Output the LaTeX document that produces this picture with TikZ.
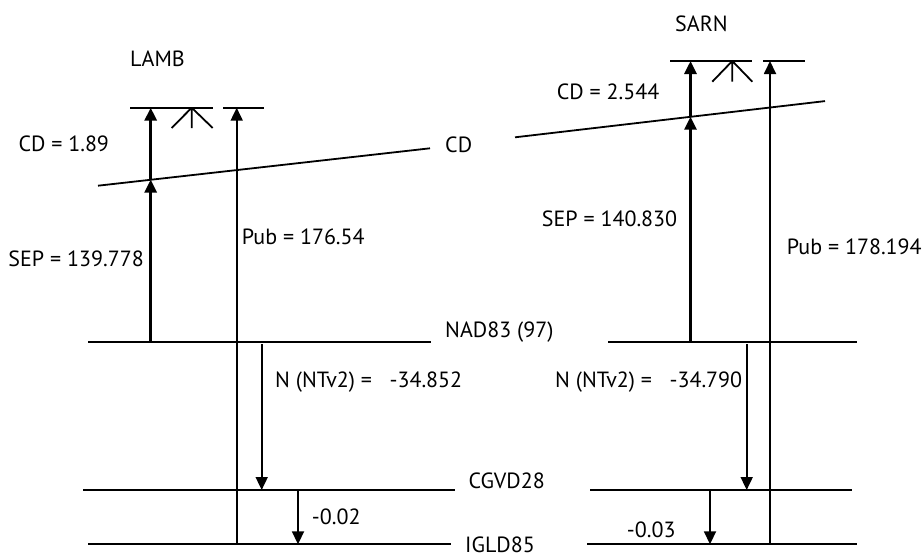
\documentclass[tikz,border=0pt]{standalone}
\usepackage{fontspec}
\setmainfont{PT Sans}
\usetikzlibrary{arrows.meta}
\begin{document}
\begin{tikzpicture}[x=1pt,y=-1pt,
  thinln/.style={line width=1.8pt},
  thickln/.style={line width=3pt},
  tip/.style={-{Triangle[width=12pt,length=13pt]}},
  lbl/.style={anchor=west,inner sep=0pt,font=\fontsize{22}{26}\selectfont}]
\useasboundingbox (0,0) rectangle (923,557);
% level lines
\coordinate (nadLa) at (88,342);   \coordinate (nadLb) at (431,342);
\coordinate (nadRa) at (608,342);  \coordinate (nadRb) at (857,342);
\coordinate (cgLa) at (83,490);    \coordinate (cgLb) at (455,490);
\coordinate (cgRa) at (590,490);   \coordinate (cgRb) at (852,490);
\coordinate (igLa) at (88,544.3);  \coordinate (igLb) at (451,544.3);
\coordinate (igRa) at (587,544.3); \coordinate (igRb) at (857,544.3);
\draw[thinln] (nadLa) -- (nadLb);
\draw[thinln] (nadRa) -- (nadRb);
\draw[thinln] (cgLa) -- (cgLb);
\draw[thinln] (cgRa) -- (cgRb);
\draw[thinln] (igLa) -- (igLb);
\draw[thinln] (igRa) -- (igRb);
% CD line
\coordinate (cdLa) at (98,185.7);  \coordinate (cdLb) at (430,148.3);
\coordinate (cdRa) at (515,137.3); \coordinate (cdRb) at (825,101.1);
\draw[thinln] (cdLa) -- (cdLb);
\draw[thinln] (cdRa) -- (cdRb);
% top bars LAMB
\coordinate (tbL1a) at (130,107.7); \coordinate (tbL1b) at (213,107.7);
\coordinate (tbL2a) at (223,107.7); \coordinate (tbL2b) at (264,107.7);
\draw[thinln] (tbL1a) -- (tbL1b);
\draw[thinln] (tbL2a) -- (tbL2b);
\coordinate (symL) at (191.7,107.7);
\draw[thinln] (symL) -- (191.7,128) (symL) -- (171.7,128) (symL) -- (212.7,128);
% top bars SARN
\coordinate (tbR1a) at (670,61); \coordinate (tbR1b) at (752,61);
\coordinate (tbR2a) at (763,61); \coordinate (tbR2b) at (805,61);
\draw[thinln] (tbR1a) -- (tbR1b);
\draw[thinln] (tbR2a) -- (tbR2b);
\coordinate (symR) at (732.3,61);
\draw[thinln] (symR) -- (732.3,81.7) (symR) -- (712.3,81.7) (symR) -- (752.3,81.7);
% LAMB arrows
\coordinate (sepL0) at (150.7,342);
\coordinate (sepL1) at (150.7,179.6);
\coordinate (sepL2) at (150.7,107.7);
\draw[thickln,tip] (sepL0) -- (sepL1);
\draw[thickln,tip] (sepL1) -- (sepL2);
\coordinate (pubL0) at (236.7,544.3);
\coordinate (pubL1) at (236.7,107.7);
\draw[thinln,tip] (pubL0) -- (pubL1);
\coordinate (nL0) at (261.7,344);
\coordinate (nL1) at (261.7,490);
\draw[thinln,tip] (nL0) -- (nL1);
\coordinate (hL0) at (298,490);
\coordinate (hL1) at (298,544.3);
\draw[thinln,tip] (hL0) -- (hL1);
% SARN arrows
\coordinate (sepR0) at (690.5,342);
\coordinate (sepR1) at (690.5,116.7);
\coordinate (sepR2) at (690.5,61);
\draw[thickln,tip] (sepR0) -- (sepR1);
\draw[thickln,tip] (sepR1) -- (sepR2);
\coordinate (pubR0) at (770,544.3);
\coordinate (pubR1) at (770,61);
\draw[thinln,tip] (pubR0) -- (pubR1);
\coordinate (nR0) at (746.7,344);
\coordinate (nR1) at (746.7,490);
\draw[thinln,tip] (nR0) -- (nR1);
\coordinate (hR0) at (710,490);
\coordinate (hR1) at (710,544.3);
\draw[thinln,tip] (hR0) -- (hR1);
% labels
\node[lbl] (lamb) at (130,58.3) {LAMB};
\node[lbl] (sarn) at (675,23.3) {SARN};
\node[lbl] (cdl) at (18.3,143.3) {CD = 1.89};
\node[lbl] (cdr) at (556.7,91.7) {CD = 2.544};
\node[lbl] (cd) at (445,145) {CD};
\node[lbl] (sepl) at (8.3,258.3) {SEP = 139.778};
\node[lbl] (publ) at (241.7,236.7) {Pub = 176.54};
\node[lbl] (sepr) at (541.7,218.3) {SEP = 140.830};
\node[lbl] (pubr) at (786.7,246.7) {Pub = 178.194};
\node[lbl] (nad) at (445,331.7) {NAD83 (97)};
\node[lbl] (cgvd) at (468.3,480.7) {CGVD28};
\node[lbl] (igld) at (465,545) {IGLD85};
\node[lbl] (nl) at (275,381.7) {N (NTv2) =\ \ \ -34.852};
\node[lbl] (nr) at (555,381.7) {N (NTv2) =\ \ \ -34.790};
\node[lbl] (dl) at (311.7,516.7) {-0.02};
\node[lbl] (dr) at (626.7,530) {-0.03};
\end{tikzpicture}
\end{document}
